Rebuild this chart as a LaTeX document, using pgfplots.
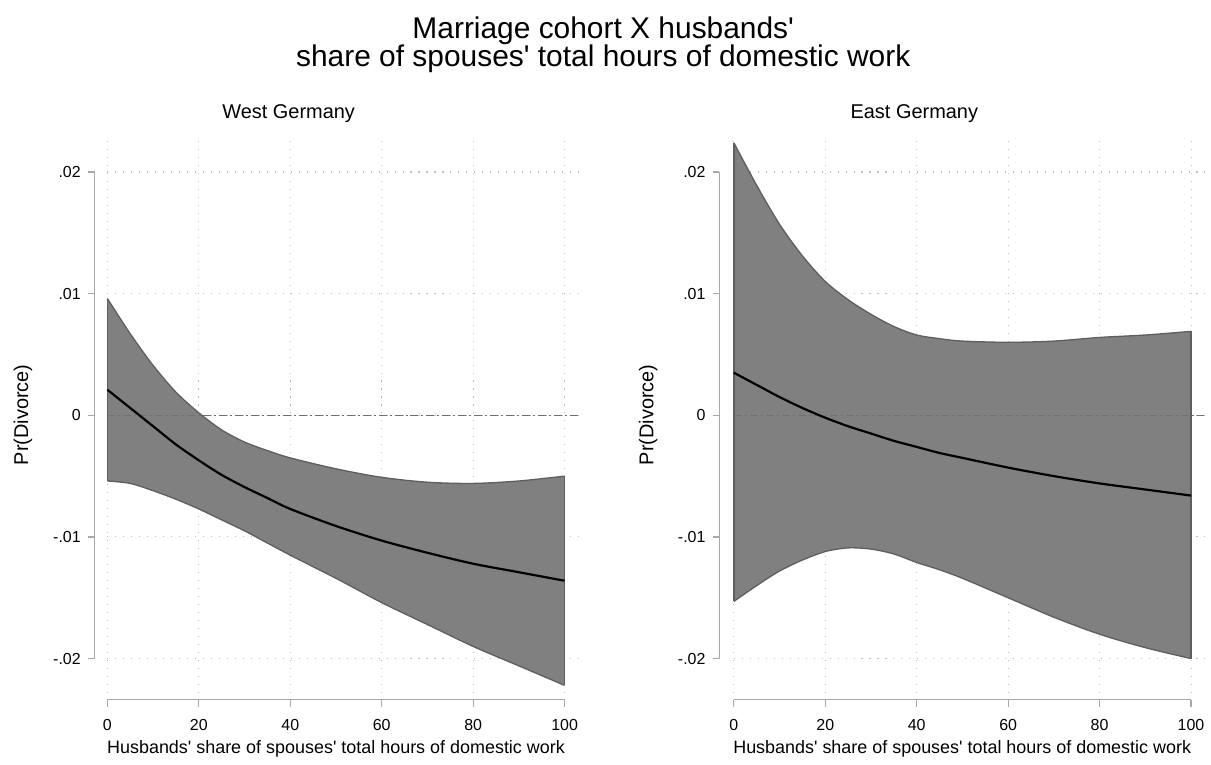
\documentclass[border=0pt]{standalone}
\usepackage{pgfplots}
\pgfplotsset{compat=1.18}
\usepgfplotslibrary{fillbetween}
\usepackage{fontspec}
\setmainfont{Liberation Sans}
\newfontfamily\stata{Liberation Sans}
\definecolor{bandfill}{HTML}{808080}
\definecolor{bandline}{HTML}{5E5E5E}
\definecolor{axgray}{HTML}{A8A8A8}
\definecolor{gridgray}{HTML}{BDBDBD}
\definecolor{zerogray}{HTML}{707070}

\pgfplotstableread{
x up mid lo
0 0.0096 0.0021 -0.0054
5 0.0067 0.0006 -0.0056
10 0.0041 -0.0009 -0.0062
15 0.0019 -0.0024 -0.0069
20 0.0002 -0.0037 -0.0077
25 -0.0012 -0.0049 -0.0086
30 -0.0022 -0.0059 -0.0095
35 -0.0029 -0.0068 -0.0105
40 -0.0035 -0.0077 -0.0115
50 -0.0044 -0.0091 -0.0134
60 -0.0051 -0.0103 -0.0154
70 -0.0055 -0.0113 -0.0172
80 -0.0056 -0.0122 -0.0190
90 -0.0054 -0.0129 -0.0206
100 -0.0050 -0.0136 -0.0222
}\westdata

\pgfplotstableread{
x up mid lo
0 0.0224 0.0035 -0.0153
5 0.0189 0.0025 -0.0140
10 0.0157 0.0015 -0.0128
15 0.0131 0.0006 -0.0119
20 0.0110 -0.0002 -0.0112
25 0.0095 -0.0009 -0.0109
30 0.0083 -0.0015 -0.0110
35 0.0073 -0.0021 -0.0114
40 0.0066 -0.0026 -0.0121
45 0.0063 -0.0031 -0.0127
50 0.0061 -0.0035 -0.0134
60 0.0060 -0.0043 -0.0150
70 0.0061 -0.0050 -0.0166
80 0.0064 -0.0056 -0.0180
90 0.0066 -0.0061 -0.0191
100 0.0069 -0.0066 -0.0200
}\eastdata

\pgfplotsset{
  panel/.style={
    scale only axis, width=236.15pt, height=279.4pt,
    anchor=south west,
    xmin=0, xmax=103, ymin=-0.0228, ymax=0.023,
    axis lines=left, axis line style={draw=none},
    axis x line shift=3.5pt,
    xtick={0,20,40,60,80,100}, xticklabels={0,20,40,60,80,100},
    ytick={-0.02,-0.01,0,0.01,0.02}, yticklabels={-.02,-.01,0,.01,.02},
    scaled y ticks=false,
    tick align=outside, major tick length=3.5pt,
    tick style={axgray, line width=0.6pt},
    xmajorgrids, ymajorgrids,
    major grid style={gridgray, line width=0.55pt, dash pattern=on 0.55pt off 3.45pt},
    ticklabel style={font=\stata\fontsize{8}{9.6}\selectfont},
    xticklabel style={yshift=-3pt},
    clip=false,
  },
  band/.style={bandline, line width=0.65pt, smooth},
}

\begin{document}
\begin{tikzpicture}

% West
\begin{axis}[panel, at={(53.85pt,32.65pt)}, axis y line shift=6.35pt]
\draw[axgray, line width=0.75pt] ([xshift=-6.35pt]axis cs:0,-0.02) -- ([xshift=-6.35pt]axis cs:0,0.02);
\draw[axgray, line width=0.75pt] ([yshift=-3.5pt]axis cs:0,-0.0228) -- ([yshift=-3.5pt]axis cs:100,-0.0228);
\addplot[zerogray, line width=0.55pt, dash pattern=on 4pt off 1.5pt on 1pt off 1.5pt] coordinates {(0,0) (103,0)};
\addplot[draw=none, name path=wu, smooth] table[x=x,y=up]{\westdata};
\addplot[draw=none, name path=wl, smooth] table[x=x,y=lo]{\westdata};
\addplot[bandfill] fill between[of=wu and wl];
\addplot[band] table[x=x,y=up]{\westdata};
\addplot[band] table[x=x,y=lo]{\westdata};
\addplot[bandline, line width=0.65pt] coordinates {(0,0.0096) (0,-0.0054)};
\addplot[bandline, line width=0.65pt] coordinates {(100,-0.0050) (100,-0.0222)};
\addplot[black, line width=1.1pt, smooth] table[x=x,y=mid]{\westdata};
\end{axis}

% East
\begin{axis}[panel, at={(368pt,32.65pt)}, axis y line shift=7.2pt]
\draw[axgray, line width=0.75pt] ([xshift=-7.2pt]axis cs:0,-0.02) -- ([xshift=-7.2pt]axis cs:0,0.02);
\draw[axgray, line width=0.75pt] ([yshift=-3.5pt]axis cs:0,-0.0228) -- ([yshift=-3.5pt]axis cs:100,-0.0228);
\addplot[zerogray, line width=0.55pt, dash pattern=on 4pt off 1.5pt on 1pt off 1.5pt] coordinates {(0,0) (103,0)};
\addplot[draw=none, name path=eu, smooth] table[x=x,y=up]{\eastdata};
\addplot[draw=none, name path=el, smooth] table[x=x,y=lo]{\eastdata};
\addplot[bandfill] fill between[of=eu and el];
\addplot[band] table[x=x,y=up]{\eastdata};
\addplot[band] table[x=x,y=lo]{\eastdata};
\addplot[bandline, line width=0.65pt] coordinates {(0,0.0224) (0,-0.0153)};
\addplot[bandline, line width=0.65pt] coordinates {(100,0.0069) (100,-0.0200)};
\addplot[black, line width=1.1pt, smooth] table[x=x,y=mid]{\eastdata};
\end{axis}

% Titles and labels
\node[anchor=base, font=\stata\fontsize{15}{18}\selectfont] at (302.5pt,360.5pt) {Marriage cohort X husbands'};
\node[anchor=base, font=\stata\fontsize{15}{18}\selectfont] at (302.5pt,346.5pt) {share of spouses' total hours of domestic work};
\node[anchor=base, font=\stata\fontsize{10}{12}\selectfont] at (144.75pt,320.5pt) {West Germany};
\node[anchor=base, font=\stata\fontsize{10}{12}\selectfont] at (458.5pt,320.5pt) {East Germany};
\node[rotate=90, font=\stata\fontsize{10}{12}\selectfont] at (11.5pt,172pt) {Pr(Divorce)};
\node[rotate=90, font=\stata\fontsize{10}{12}\selectfont] at (325pt,172pt) {Pr(Divorce)};
\node[anchor=base, font=\stata\fontsize{9}{11}\selectfont] at (168.5pt,2pt) {Husbands' share of spouses' total hours of domestic work};
\node[anchor=base, font=\stata\fontsize{9}{11}\selectfont] at (482.5pt,2pt) {Husbands' share of spouses' total hours of domestic work};
\path[use as bounding box] (0,0) rectangle (605.5pt,380pt);
\end{tikzpicture}
\end{document}
